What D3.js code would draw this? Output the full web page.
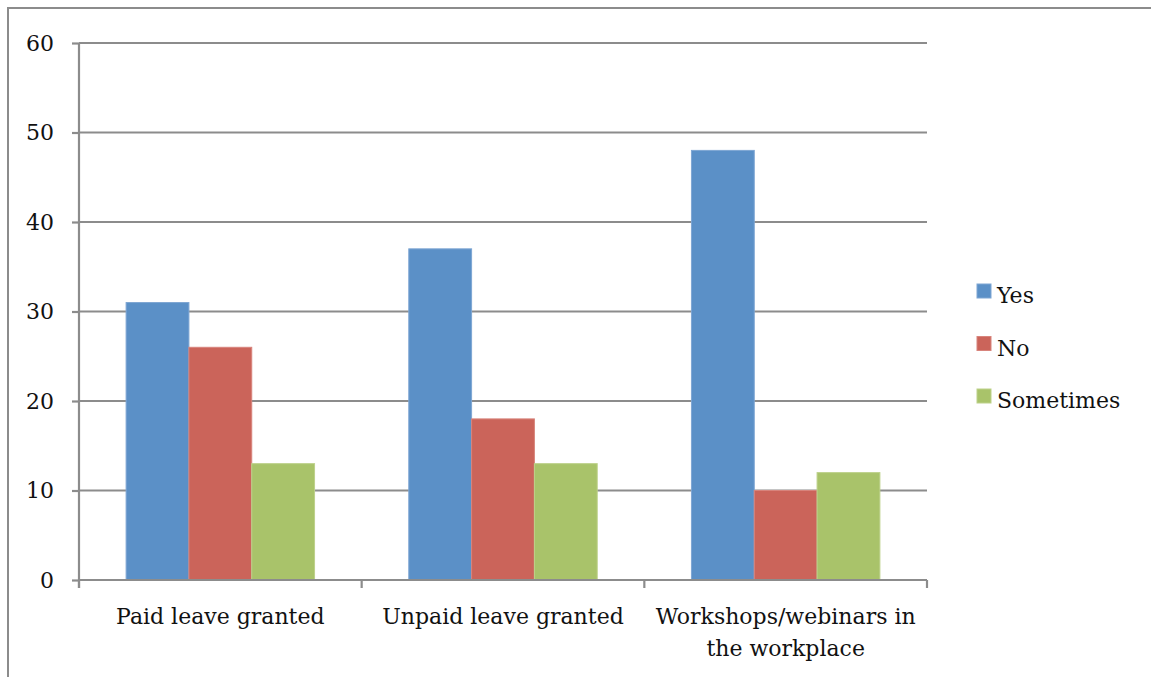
<!DOCTYPE html>
<html>
<head>
<meta charset="utf-8">
<script src="https://cdn.jsdelivr.net/npm/d3@7"></script>
<style>
  html, body { margin: 0; padding: 0; background: #fff; }
  svg { display: block; }
  text { font-family: "DejaVu Serif", serif; fill: #111; }
</style>
</head>
<body>
<svg id="chart" width="1151" height="677"></svg>
<script>
const categories = ["Paid leave granted", "Unpaid leave granted", "Workshops/webinars in the workplace"];
const categoryLines = [["Paid leave granted"], ["Unpaid leave granted"], ["Workshops/webinars in", "the workplace"]];
const seriesNames = ["Yes", "No", "Sometimes"];
const yesValues = [31, 37, 48];
const noValues = [26, 18, 10];
const sometimesValues = [13, 13, 12];
const yTicks = [0, 10, 20, 30, 40, 50, 60];
const colors = ["#5b90c7", "#cb645a", "#a9c36a"];
const strokeColors = ["#7ea6d3", "#d8847c", "#bdd18a"];

const seriesValues = [yesValues, noValues, sometimesValues];
const svg = d3.select("#chart");

// outer frame
svg.append("path")
  .attr("d", "M8,677 L8,8 L1151,8")
  .attr("fill", "none").attr("stroke", "#8c8c8c").attr("stroke-width", 2);

const plotLeft = 79, plotRight = 927, plotTop = 43, plotBottom = 580;
const x0 = d3.scaleBand().domain(categories).range([plotLeft, plotRight]).paddingInner(0).paddingOuter(0);
const x1 = d3.scaleBand().domain(seriesNames).range([0, x0.bandwidth()]).paddingOuter(0.75).paddingInner(0);
const y = d3.scaleLinear().domain([0, 60]).range([plotBottom, plotTop]);

// gridlines
svg.append("g").selectAll("line").data(yTicks.filter(d => d > 0)).join("line")
  .attr("x1", plotLeft).attr("x2", plotRight)
  .attr("y1", d => y(d)).attr("y2", d => y(d))
  .attr("stroke", "#8c8c8c").attr("stroke-width", 2.2);

// bars
const groups = svg.append("g").selectAll("g").data(categories).join("g")
  .attr("transform", d => `translate(${x0(d)},0)`);
groups.selectAll("rect")
  .data((c, i) => seriesNames.map((s, j) => ({ s, j, v: seriesValues[j][i] })))
  .join("rect")
  .attr("x", d => x1(d.s))
  .attr("width", x1.bandwidth())
  .attr("y", d => y(d.v))
  .attr("height", d => y(0) - y(d.v))
  .attr("fill", d => colors[d.j])
  .attr("stroke", d => strokeColors[d.j]).attr("stroke-width", 1);

// y axis
const yAxis = d3.axisLeft(y).tickValues(yTicks).tickSize(7).tickPadding(18).tickFormat(d3.format("d"));
const gy = svg.append("g").attr("transform", `translate(${plotLeft},0)`).call(yAxis);
gy.select(".domain").attr("stroke", "#8c8c8c").attr("stroke-width", 2.2).attr("d", `M0,${plotTop}V${plotBottom + 8}`);
gy.selectAll(".tick line").attr("stroke", "#8c8c8c").attr("stroke-width", 2.2);
gy.selectAll(".tick text").attr("font-size", 22).attr("font-family", "DejaVu Serif, serif").attr("fill", "#111");

// x axis line + ticks at category boundaries
const gx = svg.append("g");
gx.append("line").attr("x1", plotLeft).attr("x2", plotRight).attr("y1", plotBottom).attr("y2", plotBottom)
  .attr("stroke", "#8c8c8c").attr("stroke-width", 2.2);
const boundaries = categories.map(c => x0(c)).concat([x0(categories[categories.length - 1]) + x0.bandwidth()]);
gx.selectAll("line.tk").data(boundaries).join("line").attr("class", "tk")
  .attr("x1", d => d).attr("x2", d => d).attr("y1", plotBottom).attr("y2", plotBottom + 8)
  .attr("stroke", "#8c8c8c").attr("stroke-width", 2.2);

// category labels
const labels = svg.append("g").selectAll("text").data(categories).join("text")
  .attr("x", d => x0(d) + x0.bandwidth() / 2)
  .attr("y", 624)
  .attr("text-anchor", "middle")
  .attr("font-size", 22);
labels.each(function(d, i) {
  const t = d3.select(this);
  categoryLines[i].forEach((line, k) => {
    t.append("tspan").attr("x", x0(d) + x0.bandwidth() / 2).attr("dy", k === 0 ? 0 : 32).text(line);
  });
});

// legend
const legend = svg.append("g").selectAll("g").data(seriesNames).join("g")
  .attr("transform", (d, i) => `translate(977,${284 + i * 52.5})`);
legend.append("rect").attr("width", 14).attr("height", 14)
  .attr("fill", (d, i) => colors[i]).attr("stroke", (d, i) => strokeColors[i]).attr("stroke-width", 1);
legend.append("text").attr("x", 20).attr("y", 19).attr("font-size", 22).text(d => d);
</script>
</body>
</html>
